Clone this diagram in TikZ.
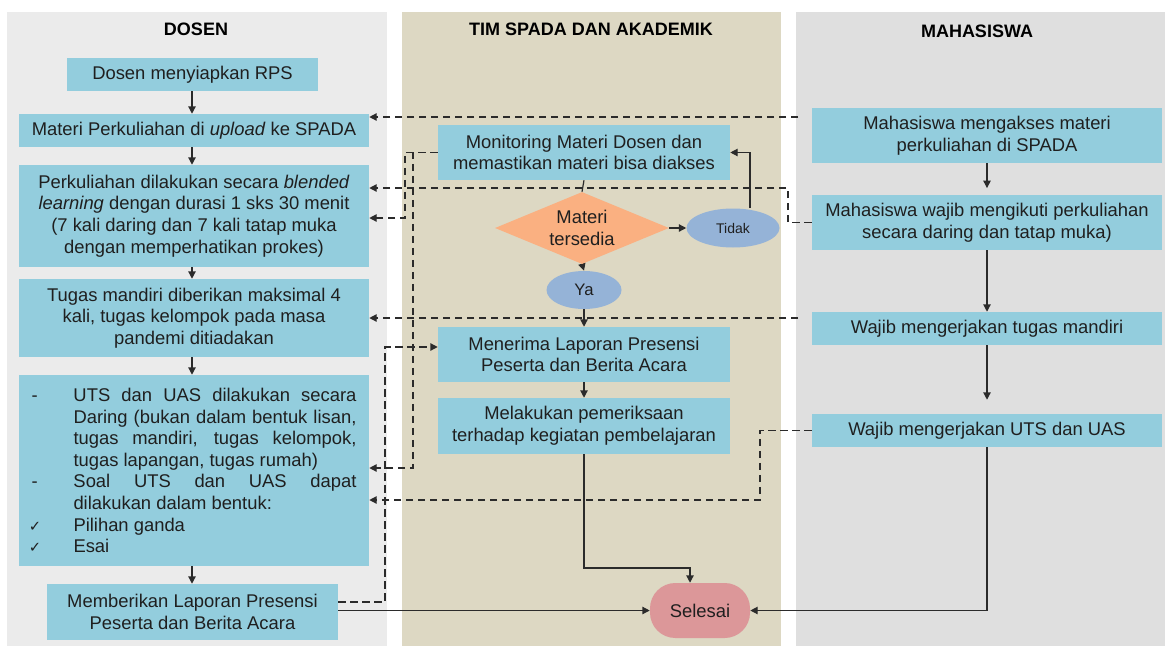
\documentclass[tikz,border=0pt]{standalone}
\usepackage{fontspec}
\setmainfont{Liberation Sans}
\newfontfamily\symfont{DejaVu Sans}
\usetikzlibrary{arrows.meta,shapes.geometric}

\definecolor{laneA}{HTML}{EBEBEB}
\definecolor{laneB}{HTML}{DDD8C3}
\definecolor{laneC}{HTML}{DFDFDF}
\definecolor{boxblue}{HTML}{93CDDD}
\definecolor{decor}{HTML}{FAB081}
\definecolor{ovalblue}{HTML}{95B3D7}
\definecolor{endpink}{HTML}{DC9799}
\definecolor{ink}{HTML}{1F1F1F}
\definecolor{wire}{HTML}{2B2B2B}

\pgfdeclarelayer{lanes}
\pgfdeclarelayer{wires}
\pgfsetlayers{lanes,wires,main}

\tikzset{
  procbox/.style={fill=boxblue, inner sep=0pt, align=center, text=ink},
  lanehead/.style={font=\fontsize{13.5}{15}\selectfont\bfseries, text=black},
  flow/.style={draw=wire, line width=0.9pt, -{Triangle[length=5.5pt,width=5.5pt]}},
  dashflow/.style={flow, dash pattern=on 5.5pt off 3.5pt},
  plainwire/.style={draw=wire, line width=0.9pt},
}

\begin{document}
\begin{tikzpicture}[x=0.75pt, y=-0.75pt, font=\fontsize{13.8}{16.2}\selectfont]
\useasboundingbox (0,0) rectangle (1166,646);

% swimlanes
\begin{pgfonlayer}{lanes}
  \fill[white] (0,0) rectangle (1166,646);
  \fill[laneA] (7,12) rectangle (387,646);
  \fill[laneB] (402,12) rectangle (781,646);
  \fill[laneC] (796,12) rectangle (1165,646);
\end{pgfonlayer}

\node[lanehead] (hA) at (196,29) {DOSEN};
\node[lanehead] (hB) at (591,29) {TIM SPADA DAN AKADEMIK};
\node[lanehead] (hC) at (977,31) {MAHASISWA};

% DOSEN lane
\node[procbox, minimum width=188.25pt, minimum height=24.75pt] (d1) at (192.5,74.5) {Dosen menyiapkan RPS};
\node[procbox, minimum width=262.5pt, minimum height=24.75pt] (d2) at (194,130.5) {Materi Perkuliahan di \textit{upload} ke SPADA};
\node[procbox, minimum width=262.5pt, minimum height=76.5pt] (d3) at (194,216)
  {Perkuliahan dilakukan secara \textit{blended}\\ \textit{learning} dengan durasi 1 sks 30 menit\\ (7 kali daring dan 7 kali tatap muka\\ dengan memperhatikan prokes)};
\node[procbox, minimum width=262.5pt, minimum height=58.5pt] (d4) at (194,318)
  {Tugas mandiri diberikan maksimal 4\\ kali, tugas kelompok pada masa\\ pandemi ditiadakan};
\node[procbox, minimum width=262.5pt, minimum height=143.25pt, align=left] (d5) at (194,470.5)
  {\makebox[31.5pt][l]{-}\makebox[212.25pt][s]{UTS dan UAS dilakukan secara}\\
   \hspace*{31.5pt}\makebox[212.25pt][s]{Daring (bukan dalam bentuk lisan,}\\
   \hspace*{31.5pt}\makebox[212.25pt][s]{tugas mandiri, tugas kelompok,}\\
   \hspace*{31.5pt}tugas lapangan, tugas rumah)\\
   \makebox[31.5pt][l]{-}\makebox[212.25pt][s]{Soal UTS dan UAS dapat}\\
   \hspace*{31.5pt}dilakukan dalam bentuk:\\
   \makebox[31.5pt][l]{\hspace*{-2pt}\symfont\fontsize{11}{13}\selectfont ✓}Pilihan ganda\\
   \makebox[31.5pt][l]{\hspace*{-2pt}\symfont\fontsize{11}{13}\selectfont ✓}Esai};
\node[procbox, minimum width=218.25pt, minimum height=42pt] (d6) at (192.5,612)
  {Memberikan Laporan Presensi\\ Peserta dan Berita Acara};

% TIM SPADA lane
\node[procbox, minimum width=219pt, minimum height=41.25pt] (m1) at (584,152.5)
  {Monitoring Materi Dosen dan\\ memastikan materi bisa diakses};
\node[diamond, shape aspect=2.4, fill=decor, inner sep=0pt, align=center, text=ink,
      minimum width=130.5pt, minimum height=54pt] (dia) at (582,228) {Materi\\ tersedia};
\node[ellipse, fill=ovalblue, inner sep=0pt, text=ink, font=\fontsize{10.5}{12}\selectfont,
      minimum width=69.75pt, minimum height=29.25pt] (tidak) at (733,228) {Tidak};
\node[ellipse, fill=ovalblue, inner sep=0pt, text=ink, font=\fontsize{12.5}{15}\selectfont,
      minimum width=56.25pt, minimum height=28.5pt] (ya) at (584,290) {Ya};
\node[procbox, minimum width=219pt, minimum height=41.25pt] (n1) at (584,354.5)
  {Menerima Laporan Presensi\\ Peserta dan Berita Acara};
\node[procbox, minimum width=219pt, minimum height=42pt] (n2) at (584,426)
  {Melakukan pemeriksaan\\ terhadap kegiatan pembelajaran};
\node[fill=endpink, rounded corners=19pt, inner sep=0pt, text=ink,
      minimum width=75pt, minimum height=41.25pt] (sel) at (700,610.5) {Selesai};

% MAHASISWA lane
\node[procbox, minimum width=262.5pt, minimum height=41.25pt] (s1) at (987,135.5)
  {Mahasiswa mengakses materi\\ perkuliahan di SPADA};
\node[procbox, minimum width=262.5pt, minimum height=41.25pt] (s2) at (987,222.5)
  {Mahasiswa wajib mengikuti perkuliahan\\ secara daring dan tatap muka)};
\node[procbox, minimum width=262.5pt, minimum height=24.75pt] (s3) at (987,328.5)
  {Wajib mengerjakan tugas mandiri};
\node[procbox, minimum width=262.5pt, minimum height=24.75pt] (s4) at (987,430.5)
  {Wajib mengerjakan UTS dan UAS};

% bend points of the connectors
\coordinate (s1out) at (798,117);
\coordinate (s3out) at (798,318);
\coordinate (jA) at (788,188);
\coordinate (jB) at (405,218);
\coordinate (jC) at (413,468);
\coordinate (jE) at (385,347);
\coordinate (jF) at (760,500);
\coordinate (jG) at (690,568);
\coordinate (dx) at (192,0);

\begin{pgfonlayer}{wires}
  % main flow of the lecturer
  \draw[flow] (dx |- d1.south) -- (dx |- d2.north);
  \draw[flow] (dx |- d2.south) -- (dx |- d3.north);
  \draw[flow] (dx |- d3.south) -- (dx |- d4.north);
  \draw[flow] (dx |- d4.south) -- (dx |- d5.north);
  \draw[flow] (dx |- d5.south) -- (dx |- d6.north);

  % main flow of the students
  \draw[flow, shorten >=5pt] (s1.south) -- (s2.north);
  \draw[flow] (s2.south) -- (s3.north);
  \draw[flow, shorten >=10.5pt] (s3.south) -- (s4.north);

  % SPADA team flow
  \draw[plainwire] (m1.south) -- (dia.north);
  \draw[flow] (dia.east) -- (tidak.west);
  \draw[flow] ([xshift=12.75pt]tidak.north) |- (m1.east);
  \draw[flow] (dia.south) -- (ya.north);
  \draw[flow] (ya.south) -- (n1.north);
  \draw[flow] (n1.south) -- (n2.north);
  \draw[flow] (n2.south) |- (jG) -- (jG |- sel.north);
  \draw[flow] (d6.east |- sel.west) -- (sel.west);
  \draw[flow] (s4.south) |- (sel.east);

  % dashed links between the lanes
  \draw[dashflow] (s1out) -- (d2.east |- s1out);
  \draw[dashflow] (s2.west) -| (jA) -- (d3.east |- jA);
  \draw[dashflow] (m1.west) -| (jB) -- (d3.east |- jB);
  \draw[dashflow] (m1.west) -| (jC) -- (d5.east |- jC);
  \draw[dashflow] (s3out) -- (d4.east |- s3out);
  \draw[dashflow] ([yshift=7.5pt]d6.east) -| (jE) -- (n1.west |- jE);
  \draw[dashflow] (s4.west) -| (jF) -- (d5.east |- jF);
\end{pgfonlayer}
\end{tikzpicture}
\end{document}
